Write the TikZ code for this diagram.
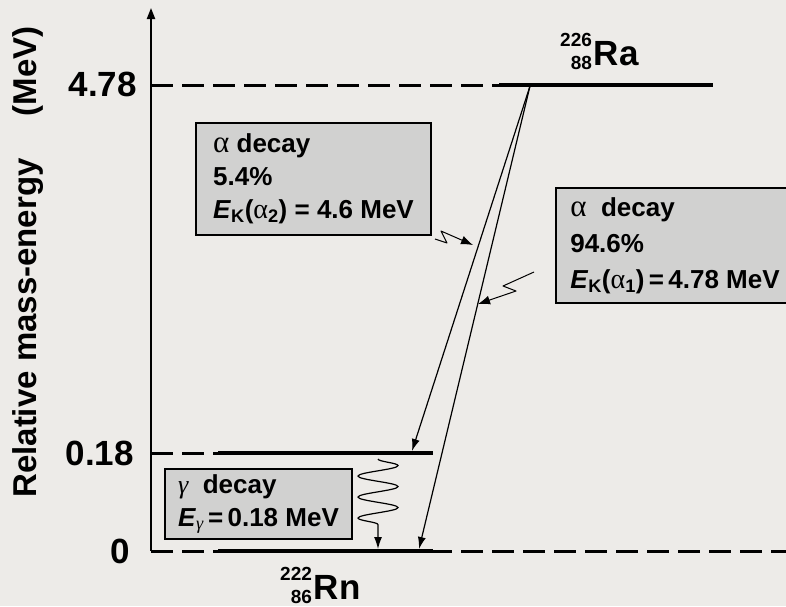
\documentclass[tikz,border=0pt]{standalone}
\usepackage{fontspec}
\setmainfont{Liberation Sans}
\newfontfamily\greekfont{Liberation Serif}
\usetikzlibrary{arrows.meta,decorations.pathmorphing}
\definecolor{bgcol}{RGB}{237,235,232}
\definecolor{boxcol}{RGB}{209,209,208}
\newcommand{\alphasym}{{\greekfont\mdseries\fontsize{31}{31}\selectfont α}}
\newcommand{\alphasub}{{\greekfont\mdseries\fontsize{28}{28}\selectfont α}}
\newcommand{\gammasym}{{\greekfont\mdseries\itshape γ}}
\newcommand{\isotope}[3]{\raisebox{-4pt}{\fontsize{19}{19}\selectfont\renewcommand{\arraystretch}{0}\begin{tabular}[b]{@{}r@{}}#1\\[9pt]#2\end{tabular}}\kern2pt#3}

\begin{document}
\begin{tikzpicture}[x=1pt, y=-1pt,
    level/.style={line width=4pt},
    guide/.style={line width=3pt, dash pattern=on 22pt off 9pt},
    infobox/.style={draw, line width=2pt, fill=boxcol, align=left, inner sep=0pt,
        font=\fontsize{26}{33}\selectfont\bfseries},
    decayarrow/.style={line width=1.2pt, -{Latex[length=12pt, width=8pt]}},
    pointer/.style={line width=1pt, line join=round, -{Latex[length=12pt, width=9pt]}},
    ticklabel/.style={anchor=east, inner sep=0pt, font=\fontsize{35}{35}\selectfont\bfseries}]
        % Background
        \fill[bgcol] (0,0) rectangle (786,606);
        \useasboundingbox (0,0) rectangle (786,606);
        \clip (0,0) rectangle (786,606);

        % Axis
        \draw[line width=2pt, -{Triangle[length=11pt, width=8pt]}] (151,551) -- (151,8);
        \node[rotate=90, font=\fontsize{33}{33}\selectfont\bfseries] (ylabel) at (28,262) {Relative mass-energy\quad\ (MeV)};
        \node[ticklabel] (t478) at (137,84) {4.78};
        \node[ticklabel] (t018) at (134,453) {0.18};
        \node[ticklabel] (t0) at (130,551) {0};

        % Levels
        \draw[guide] (151,85) -- (499,85);
        \draw[level] (499,85) -- (713,85);
        \draw[guide] (151,453) -- (218,453);
        \draw[level] (218,453) -- (433,453);
        \draw[guide] (151,551) -- (786,551);
        \draw[level] (218,551) -- (433,551);

        % Nuclides
        \node[anchor=base west, inner sep=0pt, font=\fontsize{35}{35}\selectfont\bfseries] (ra) at (560,65) {\isotope{226}{88}{Ra}};
        \node[anchor=base west, inner sep=0pt, font=\fontsize{35}{35}\selectfont\bfseries] (rn) at (280,599) {\isotope{222}{86}{Rn}};

        % Info boxes
        \node[infobox, minimum width=235pt, minimum height=112pt, anchor=north west] (boxtwo) at (195,122)
            {\alphasym\ decay\\5.4\%\\\textit{E}\textsubscript{K}(\alphasub\textsubscript{2}) = 4.6 MeV};
        \node[infobox, font=\fontsize{26}{36}\selectfont\bfseries, minimum width=238pt, minimum height=115pt, anchor=north west] (boxone) at (555,187)
            {\alphasym\ \ decay\\94.6\%\\\textit{E}\textsubscript{K}(\alphasub\textsubscript{1})\,=\,4.78 MeV};
        \node[infobox, minimum width=187pt, minimum height=70pt, anchor=north west] (boxgam) at (164,468)
            {\gammasym\ \ decay\\\textit{E}\textsubscript{\gammasym}\,=\,0.18 MeV};

        % Decay arrows
        \coordinate (src) at (530,86);
        \coordinate (hittwo) at (412,451);
        \coordinate (hitone) at (419,549);
        \draw[decayarrow] (src) -- (hittwo);
        \draw[decayarrow] (src) -- (hitone);

        % Gamma ray
        \coordinate (gtop) at (378,459);
        \coordinate (gbot) at (378,549);
        \draw[line width=1.2pt, -{Latex[length=12pt, width=8pt]},
            decorate, decoration={snake, amplitude=20pt, segment length=21pt, post length=18pt}] (gtop) -- (gbot);

        % Pointers
        \coordinate (ptwo) at (435,239);
        \coordinate (tiptwo) at (473,245);
        \draw[pointer] (ptwo) -- (447,243) -- (441,231) -- (tiptwo);
        \coordinate (pone) at (534,272);
        \coordinate (tipone) at (478,304);
        \draw[pointer] (pone) -- (503,286) -- (516,291) -- (tipone);
    \end{tikzpicture}
\end{document}
